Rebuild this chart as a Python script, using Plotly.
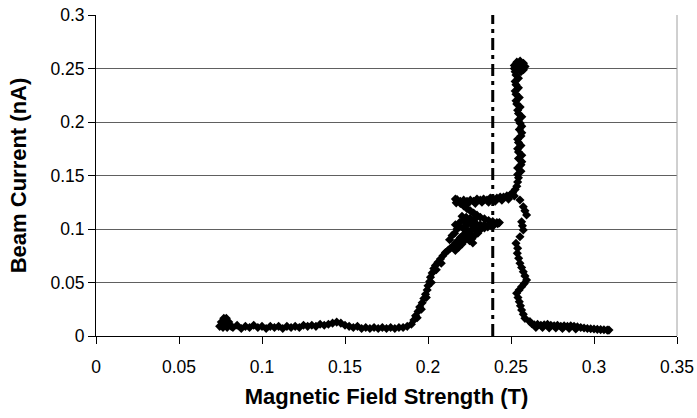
import plotly.graph_objects as go

# ---- data ----
start_x = [0.0745, 0.0755, 0.0770, 0.0785, 0.0800, 0.0815, 0.0765, 0.0790, 0.0775]
start_y = [0.0090, 0.0130, 0.0165, 0.0165, 0.0130, 0.0090, 0.0080, 0.0080, 0.0120]

flat_low_x = [0.0825, 0.0850, 0.0875, 0.0900, 0.0925, 0.0950, 0.0975, 0.1000, 0.1025, 0.1050,
              0.1075, 0.1100, 0.1125, 0.1150, 0.1175, 0.1200, 0.1225, 0.1250, 0.1275, 0.1300,
              0.1325, 0.1350, 0.1375, 0.1400, 0.1425, 0.1450, 0.1475, 0.1500, 0.1525, 0.1550,
              0.1575, 0.1600, 0.1625, 0.1650, 0.1675, 0.1700, 0.1725, 0.1750, 0.1775, 0.1800,
              0.1825, 0.1850, 0.1875]
flat_low_y = [0.008, 0.010, 0.007, 0.009, 0.008, 0.010, 0.008, 0.009, 0.007, 0.009,
              0.008, 0.009, 0.007, 0.009, 0.008, 0.009, 0.008, 0.010, 0.009, 0.010,
              0.009, 0.011, 0.010, 0.011, 0.012, 0.013, 0.012, 0.010, 0.009, 0.008,
              0.009, 0.007, 0.008, 0.007, 0.008, 0.007, 0.008, 0.007, 0.008, 0.007,
              0.008, 0.008, 0.009]

rise_x = [0.1900, 0.1915, 0.1925, 0.1940, 0.1950, 0.1965, 0.1975, 0.1985, 0.1995, 0.2000,
          0.2010, 0.2015, 0.2025, 0.2035, 0.2045, 0.2060, 0.2075, 0.2090, 0.2105, 0.2120,
          0.2135, 0.2150, 0.2165, 0.2180, 0.2195, 0.2210, 0.2225,
          0.1935, 0.1960, 0.1990, 0.2020, 0.2050, 0.2080]
rise_y = [0.011, 0.015, 0.019, 0.023, 0.027, 0.031, 0.035, 0.039, 0.043, 0.047,
          0.051, 0.055, 0.059, 0.063, 0.066, 0.069, 0.072, 0.075, 0.078, 0.080,
          0.082, 0.084, 0.087, 0.089, 0.092, 0.094, 0.096,
          0.017, 0.025, 0.036, 0.050, 0.062, 0.068]

blob_x = [0.2130, 0.2145, 0.2165, 0.2185, 0.2205, 0.2225, 0.2235, 0.2255, 0.2280, 0.2300,
          0.2250, 0.2270, 0.2265, 0.2160, 0.2175, 0.2190, 0.2210, 0.2230,
          0.2165, 0.2190, 0.2215, 0.2240, 0.2265, 0.2290, 0.2315, 0.2340,
          0.2205, 0.2230, 0.2255, 0.2280]
blob_y = [0.090, 0.094, 0.080, 0.083, 0.086, 0.090, 0.093, 0.095, 0.094, 0.096,
          0.089, 0.087, 0.091, 0.096, 0.100, 0.102, 0.101, 0.103,
          0.104, 0.106, 0.108, 0.106, 0.104, 0.105, 0.104, 0.104,
          0.112, 0.111, 0.110, 0.109]

mid_band_x = [0.2240, 0.2260, 0.2280, 0.2300, 0.2320, 0.2340, 0.2360, 0.2380, 0.2400, 0.2420, 0.2430]
mid_band_y = [0.098, 0.099, 0.100, 0.099, 0.100, 0.101, 0.102, 0.103, 0.104, 0.105, 0.106]

arm_x = [0.2415, 0.2390, 0.2365, 0.2340, 0.2315, 0.2295, 0.2275, 0.2255, 0.2235, 0.2215, 0.2195, 0.2175]
arm_y = [0.106, 0.107, 0.108, 0.1095, 0.111, 0.113, 0.115, 0.117, 0.119, 0.1215, 0.124, 0.1265]

upper_band_x = [0.2165, 0.2170, 0.2175, 0.2195, 0.2215, 0.2235, 0.2255, 0.2275, 0.2295, 0.2315,
                0.2335, 0.2355, 0.2375, 0.2395, 0.2415, 0.2435, 0.2455, 0.2475, 0.2495, 0.2510,
                0.2525, 0.2535, 0.2540, 0.2545,
                0.2205, 0.2245, 0.2285, 0.2325, 0.2365, 0.2405, 0.2445, 0.2485, 0.2520]
upper_band_y = [0.128, 0.1245, 0.1275, 0.126, 0.127, 0.126, 0.127, 0.126, 0.128, 0.127,
                0.128, 0.127, 0.129, 0.128, 0.129, 0.130, 0.130, 0.131, 0.132, 0.134,
                0.137, 0.140, 0.144, 0.148,
                0.1245, 0.1245, 0.124, 0.125, 0.125, 0.126, 0.127, 0.128, 0.131]

column_x = [0.2540, 0.2560, 0.2540, 0.2560, 0.2565, 0.2545, 0.2565, 0.2545, 0.2540, 0.2560,
            0.2545, 0.2540, 0.2560, 0.2565, 0.2550, 0.2565, 0.2555, 0.2545, 0.2565, 0.2545,
            0.2540, 0.2555, 0.2535, 0.2530, 0.2550, 0.2530, 0.2525, 0.2545, 0.2530, 0.2525,
            0.2545, 0.2530, 0.2525, 0.2520, 0.2520, 0.2535, 0.2555, 0.2575, 0.2585, 0.2575,
            0.2560, 0.2545, 0.2565, 0.2550]
column_y = [0.151, 0.154, 0.157, 0.160, 0.163, 0.166, 0.169, 0.172, 0.175, 0.178,
            0.181, 0.184, 0.187, 0.190, 0.193, 0.196, 0.199, 0.202, 0.205, 0.208,
            0.211, 0.214, 0.217, 0.220, 0.223, 0.226, 0.229, 0.232, 0.235, 0.238,
            0.241, 0.244, 0.247, 0.250, 0.253, 0.256, 0.257, 0.255, 0.252, 0.249,
            0.247, 0.2525, 0.2525, 0.2500]

fall_x = [0.2554, 0.2574, 0.2584, 0.2594, 0.2564, 0.2569, 0.2574, 0.2554, 0.2530, 0.2540,
          0.2538, 0.2546, 0.2554, 0.2564, 0.2574, 0.2584, 0.2594, 0.2580, 0.2564, 0.2549,
          0.2534, 0.2542, 0.2550, 0.2557, 0.2564, 0.2574, 0.2584, 0.2614]
fall_y = [0.1271, 0.1208, 0.1170, 0.1131, 0.1068, 0.1030, 0.0991, 0.0928, 0.0866, 0.0820,
          0.0773, 0.0727, 0.0680, 0.0640, 0.0601, 0.0562, 0.0523, 0.0490, 0.0461, 0.0430,
          0.0399, 0.0360, 0.0321, 0.0282, 0.0243, 0.0204, 0.0165, 0.0134]

flat_high_x = [0.2625, 0.2640, 0.2660, 0.2680, 0.2700, 0.2720, 0.2740, 0.2760, 0.2780, 0.2800,
               0.2820, 0.2840, 0.2860, 0.2880, 0.2900, 0.2920, 0.2940, 0.2960, 0.2980, 0.3000,
               0.3020, 0.3040, 0.3060, 0.3080, 0.3090,
               0.2650, 0.2690, 0.2730, 0.2770, 0.2810, 0.2850, 0.2890]
flat_high_y = [0.0115, 0.0105, 0.0110, 0.0100, 0.0105, 0.0110, 0.0100, 0.0095, 0.0100, 0.0090,
               0.0095, 0.0090, 0.0095, 0.0090, 0.0085, 0.0080, 0.0075, 0.0070, 0.0068, 0.0065,
               0.0062, 0.0060, 0.0058, 0.0055, 0.0055,
               0.0080, 0.0080, 0.0075, 0.0075, 0.0070, 0.0070, 0.0065]

marker_field = 0.239   # dash-dot reference line (T)

x_ticks = [0, 0.05, 0.1, 0.15, 0.2, 0.25, 0.3, 0.35]
x_labels = ["0", "0.05", "0.1", "0.15", "0.2", "0.25", "0.3", "0.35"]
y_ticks = [0, 0.05, 0.1, 0.15, 0.2, 0.25, 0.3]
y_labels = ["0", "0.05", "0.1", "0.15", "0.2", "0.25", "0.3"]

field = (start_x + flat_low_x + rise_x + blob_x + mid_band_x + arm_x + upper_band_x
         + column_x + fall_x + flat_high_x)
current = (start_y + flat_low_y + rise_y + blob_y + mid_band_y + arm_y + upper_band_y
           + column_y + fall_y + flat_high_y)

FONT = "Liberation Sans, Arial, sans-serif"

fig = go.Figure()
fig.add_trace(go.Scatter(
    x=field, y=current, mode="markers",
    marker=dict(symbol="diamond", size=7, color="black", line=dict(width=0)),
    showlegend=False, hoverinfo="x+y",
))

fig.add_shape(type="line", xref="x", yref="y", x0=marker_field, x1=marker_field,
              y0=0, y1=0.3, line=dict(color="black", width=3, dash="12px,5px,4px,5px"),
              layer="above")
# right frame edge
fig.add_shape(type="line", xref="x domain", yref="y domain", x0=1, x1=1, y0=0, y1=1,
              line=dict(color="#a0a0a0", width=1))

fig.update_layout(
    width=697, height=418,
    margin=dict(l=96, r=20, t=15, b=82),
    paper_bgcolor="white", plot_bgcolor="white",
    font=dict(family=FONT, size=17.5, color="black"),
)
fig.update_xaxes(
    range=[0, 0.35], tickvals=x_ticks, ticktext=x_labels,
    showgrid=False, zeroline=False, automargin=False, ticklabeloverflow="allow",
    showline=True, linecolor="black", linewidth=1,
    ticks="outside", ticklen=7, tickcolor="black", ticklabelstandoff=8,
    title=dict(text="<b>Magnetic Field Strength (T)</b>", font=dict(size=22), standoff=12),
)
fig.update_yaxes(
    range=[0, 0.3001], tickvals=y_ticks, ticktext=y_labels,
    showgrid=True, gridcolor="#606060", gridwidth=1, zeroline=False, automargin=False,
    ticklabeloverflow="allow",
    showline=True, linecolor="black", linewidth=1,
    ticks="outside", ticklen=7, tickcolor="black", ticklabelstandoff=0,
    title=dict(text="<b>Beam Current (nA)</b>", font=dict(size=22), standoff=17),
)

# remove the default 8px page margin so the figure fills the 697x418 window exactly
fig.write_html("out.html", config={"displayModeBar": False},
               post_script="document.body.style.margin='0';document.body.style.overflow='hidden';")
